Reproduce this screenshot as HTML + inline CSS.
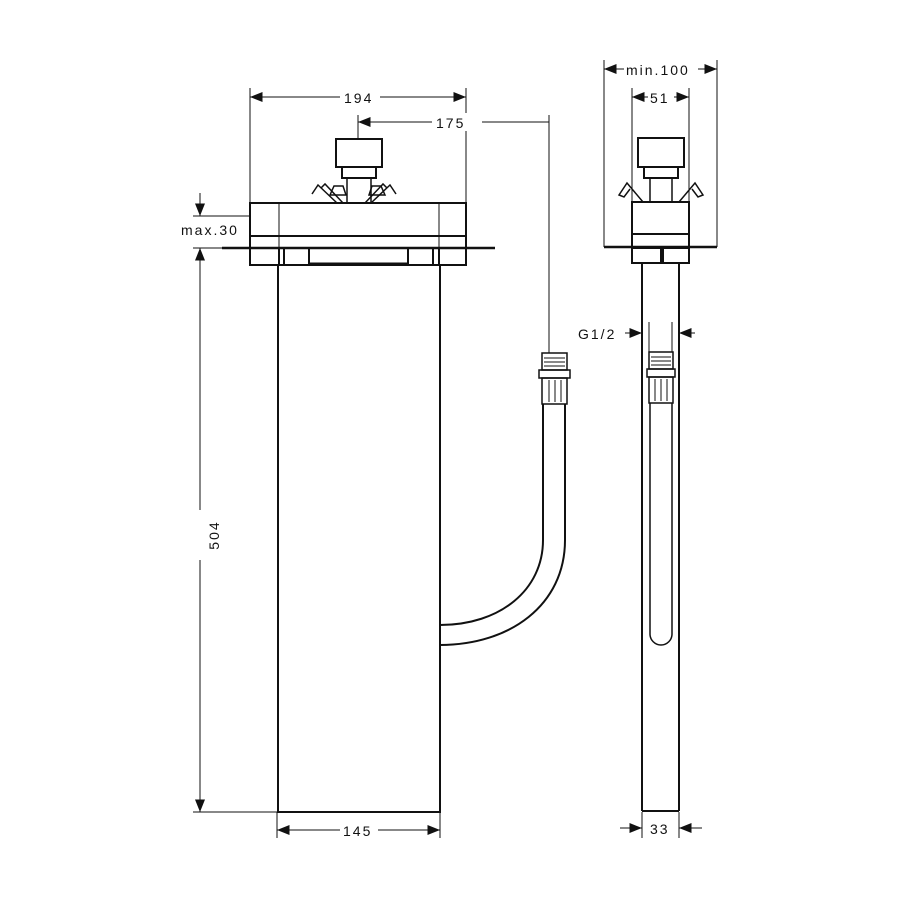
<!DOCTYPE html>
<html><head><meta charset="utf-8"><style>html,body{margin:0;padding:0;background:#fff}svg{display:block}text{font-family:"Liberation Sans",sans-serif;font-size:14px;fill:#111;letter-spacing:2px}</style></head>
<body>
<svg width="900" height="900" viewBox="0 0 900 900" xmlns="http://www.w3.org/2000/svg">
<defs>
<marker id="a" viewBox="0 0 10 8" refX="10" refY="4" markerWidth="14" markerHeight="10" markerUnits="userSpaceOnUse" orient="auto-start-reverse"><path d="M0,0L10,4L0,8z" fill="#111"/></marker>
</defs>
<g stroke="#111" fill="none" stroke-width="1">
<!-- extension lines left view -->
<line x1="250" y1="88" x2="250" y2="203"/>
<line x1="466" y1="88" x2="466" y2="203"/>
<line x1="358" y1="115" x2="358" y2="139"/>
<line x1="549" y1="115" x2="549" y2="353"/>
<line x1="193" y1="216" x2="250" y2="216"/>
<line x1="193" y1="248" x2="222" y2="248"/>
<line x1="193" y1="812" x2="277" y2="812"/>
<line x1="277" y1="812" x2="277" y2="838"/>
<line x1="440" y1="812" x2="440" y2="838"/>
<!-- dims -->
<line x1="250" y1="97" x2="340" y2="97" marker-start="url(#a)"/>
<line x1="380" y1="97" x2="466" y2="97" marker-end="url(#a)"/>
<line x1="358" y1="122" x2="432" y2="122" marker-start="url(#a)"/>
<line x1="482" y1="122" x2="549" y2="122"/>
<line x1="200" y1="193" x2="200" y2="216" marker-end="url(#a)"/>
<line x1="200" y1="248" x2="200" y2="510" marker-start="url(#a)"/>
<line x1="200" y1="560" x2="200" y2="812" marker-end="url(#a)"/>
<line x1="277" y1="830" x2="340" y2="830" marker-start="url(#a)"/>
<line x1="378" y1="830" x2="440" y2="830" marker-end="url(#a)"/>
<!-- right view extension + dims -->
<line x1="604" y1="60" x2="604" y2="247"/>
<line x1="717" y1="60" x2="717" y2="247"/>
<line x1="632" y1="88" x2="632" y2="202"/>
<line x1="689" y1="88" x2="689" y2="202"/>
<line x1="604" y1="69" x2="624" y2="69" marker-start="url(#a)"/>
<line x1="698" y1="69" x2="717" y2="69" marker-end="url(#a)"/>
<line x1="632" y1="97" x2="648" y2="97" marker-start="url(#a)"/>
<line x1="674" y1="97" x2="689" y2="97" marker-end="url(#a)"/>
<line x1="649" y1="322" x2="649" y2="352"/>
<line x1="672" y1="322" x2="672" y2="352"/>
<line x1="625" y1="333" x2="642" y2="333" marker-end="url(#a)"/>
<line x1="695" y1="333" x2="679" y2="333" marker-end="url(#a)"/>
<line x1="642" y1="812" x2="642" y2="838"/>
<line x1="679" y1="812" x2="679" y2="838"/>
<line x1="620" y1="828" x2="642" y2="828" marker-end="url(#a)"/>
<line x1="702" y1="828" x2="679" y2="828" marker-end="url(#a)"/>
</g>
<g stroke="#111" fill="none" stroke-width="2">
<!-- left view -->
<rect x="250" y="203" width="216" height="45"/>
<line x1="250" y1="236" x2="466" y2="236"/>
<line x1="279" y1="203" x2="279" y2="248" stroke-width="1"/>
<line x1="439" y1="203" x2="439" y2="248" stroke-width="1"/>
<line x1="222" y1="248" x2="495" y2="248" stroke-width="2.5"/>
<rect x="250" y="248" width="29" height="17"/>
<rect x="439" y="248" width="27" height="17"/>
<rect x="284" y="248" width="25" height="17"/>
<rect x="408" y="248" width="25" height="17"/>
<line x1="309" y1="264" x2="408" y2="264" stroke-width="3"/>
<rect x="278" y="265" width="162" height="547"/>
<rect x="336" y="139" width="46" height="28"/>
<rect x="342" y="167" width="34" height="11"/>
<rect x="347" y="178" width="24" height="25" stroke-width="1.5"/>
<path d="M312,194 L318,185 L337,203 M321,188 L325,184 L343,203 M396,194 L390,185 L371,203 M387,188 L383,184 L365,203" stroke-width="1.5"/>
<path d="M330,195 L334,186 L343,186 L346,195 Z M385,195 L381,186 L372,186 L369,195 Z" stroke-width="1.5"/>
<!-- hose left -->
<path d="M543,404 L543,540 C543,590 500,625 440,625"/>
<path d="M565,404 L565,540 C565,605 510,645 440,645"/>
<rect x="542" y="353" width="25" height="17" stroke-width="1.5"/>
<rect x="539" y="370" width="31" height="8" stroke-width="1.5"/>
<rect x="542" y="378" width="25" height="26" stroke-width="1.5"/>
<path d="M549,380 V402 M555,380 V402 M561,380 V402 M544,358 H565 M544,362 H565 M544,366 H565" stroke-width="1"/>
<!-- right view -->
<rect x="632" y="202" width="57" height="46"/>
<line x1="632" y1="234" x2="689" y2="234"/>
<line x1="604" y1="247" x2="717" y2="247" stroke-width="2.5"/>
<rect x="632" y="248" width="29" height="15"/>
<rect x="663" y="248" width="26" height="15"/>
<line x1="642" y1="263" x2="642" y2="811"/>
<line x1="679" y1="263" x2="679" y2="811"/>
<line x1="642" y1="811" x2="679" y2="811"/>
<rect x="638" y="138" width="46" height="29"/>
<rect x="644" y="167" width="34" height="11"/>
<rect x="650" y="178" width="22" height="24" stroke-width="1.5"/>
<path d="M643,202 L627,183 L619,195 L624,197 L630,189 M679,202 L695,183 L703,195 L698,197 L692,189" stroke-width="1.5"/>
<path d="M650,403 V634 A11,11 0 0 0 672,634 V403" stroke-width="1.5"/>
<rect x="649" y="352" width="24" height="17" stroke-width="1.5"/>
<rect x="647" y="369" width="28" height="8" stroke-width="1.5"/>
<rect x="649" y="377" width="24" height="26" stroke-width="1.5"/>
<path d="M655,379 V401 M661,379 V401 M667,379 V401 M651,357 H671 M651,361 H671 M651,365 H671" stroke-width="1"/>
</g>
<g fill="#fff">
<rect x="341" y="88" width="38" height="18"/>
<rect x="433" y="113" width="48" height="18"/>
<rect x="191" y="511" width="18" height="48"/>
<rect x="341" y="821" width="36" height="18"/>
</g>
<text x="344" y="103">194</text>
<text x="436" y="128">175</text>
<text x="181" y="235">max.30</text>
<text x="206" y="548" transform="rotate(-90 206 535)" text-anchor="middle" x="206">504</text>
<text x="343" y="836">145</text>
<text x="626" y="75">min.100</text>
<text x="650" y="103">51</text>
<text x="578" y="339">G1/2</text>
<text x="650" y="834">33</text>
</svg>
</body></html>
